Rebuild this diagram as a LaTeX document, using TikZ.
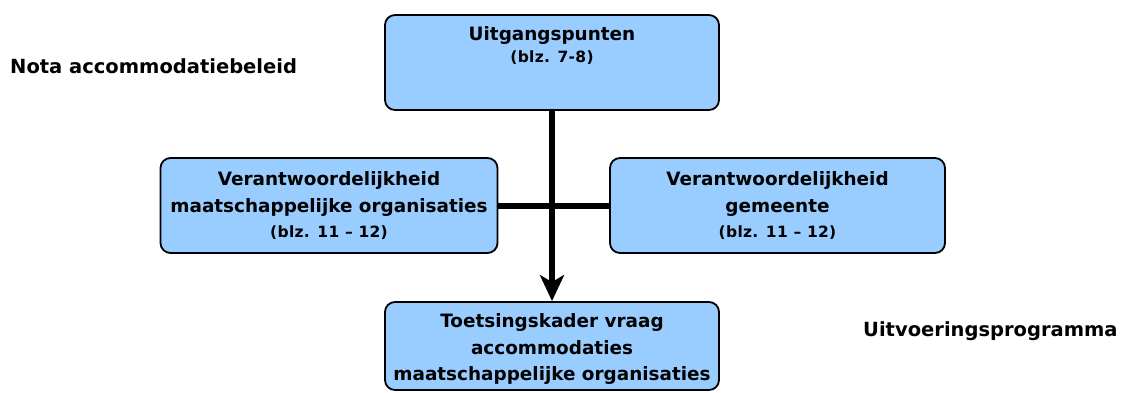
\documentclass[tikz,border=0pt]{standalone}
\usepackage{fontspec}
\setmainfont{DejaVu Sans}
\usetikzlibrary{arrows.meta,positioning}
\definecolor{boxblue}{HTML}{99CCFF}
\newcommand{\blz}[1]{{\addfontfeature{LetterSpace=2}\fontsize{15.5}{25}\selectfont #1}}
\tikzset{
  box/.style={draw, fill=boxblue, rounded corners=10pt, line width=1.8pt,
    align=center, inner sep=0pt},
  side/.style={anchor=west, inner sep=0pt, font=\bfseries\fontsize{19.5}{24}\selectfont},
  link/.style={line width=6pt}
}
\begin{document}
\begin{tikzpicture}[x=1pt, y=-1pt, >={Stealth[length=26pt,width=24pt,inset=7pt]},
    font=\bfseries\fontsize{18.4}{26.5}\selectfont]
    \useasboundingbox (0,0) rectangle (1123,392);
    % Boxes
    \node[box, minimum width=334pt, minimum height=95pt] (start) at (552,62.5)
        {Uitgangspunten\\[-4.5pt]\blz{(blz. 7-8)}\\[9pt]\mbox{}};
    \node[box, minimum width=337pt, minimum height=95pt] (maat) at (329,205.5)
        {Verantwoordelijkheid\\maatschappelijke organisaties\\[-1.5pt]\blz{(blz. 11 -- 12)}};
    \node[box, minimum width=335pt, minimum height=95pt] (gem) at (777.5,205.5)
        {Verantwoordelijkheid\\gemeente\\[-1.5pt]\blz{(blz. 11 -- 12)}};
    \node[box, minimum width=334pt, minimum height=88pt] (toets) at (552,346)
        {\rule{0pt}{20pt}Toetsingskader vraag\\accommodaties\\maatschappelijke organisaties};
    % Side labels
    \node[side] (nota) at (10,66) {Nota accommodatiebeleid};
    \node[side] (uitv) at (863,331) {Uitvoeringsprogramma};
    % Connectors
    \draw[link] (maat.east) -- (gem.west);
    \draw[link, ->] (start.south) -- (toets.north);
\end{tikzpicture}
\end{document}
